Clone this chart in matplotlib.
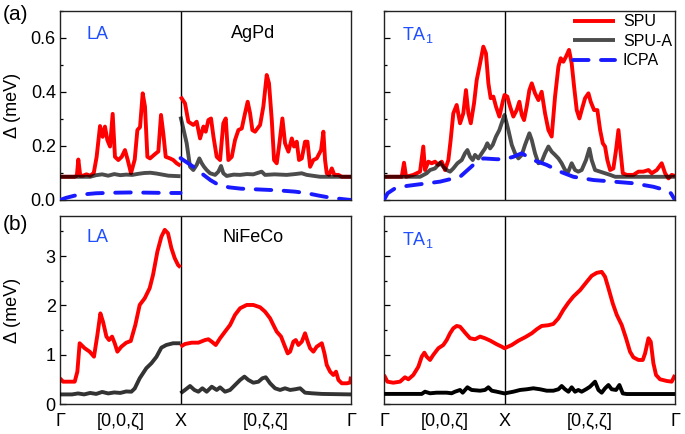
import numpy as np
import matplotlib
matplotlib.use("Agg")
import matplotlib.pyplot as plt
from matplotlib.ticker import MultipleLocator

plt.rcParams['font.family'] = ['Liberation Sans', 'DejaVu Sans']
plt.rcParams['mathtext.default'] = 'regular'

L = 1 + np.sqrt(2)

# ---------------- (a) AgPd, LA ----------------
agpd_la_spu_x1 = [0, 0.12, 0.14, 0.152, 0.168, 0.19, 0.22, 0.25, 0.28, 0.304, 0.332, 0.354, 0.373, 0.393, 0.415, 0.437, 0.456, 0.484, 0.512, 0.539, 0.562, 0.589, 0.62, 0.642, 0.664, 0.686, 0.705, 0.725, 0.747, 0.788, 0.816, 0.838, 0.857, 0.877, 0.913, 0.94, 0.968, 1.0]
agpd_la_spu_y1 = [0.086, 0.086, 0.09, 0.15, 0.09, 0.09, 0.095, 0.09, 0.10, 0.16, 0.274, 0.234, 0.272, 0.222, 0.198, 0.319, 0.16, 0.148, 0.16, 0.185, 0.148, 0.099, 0.15, 0.259, 0.27, 0.395, 0.346, 0.16, 0.154, 0.17, 0.18, 0.315, 0.247, 0.16, 0.154, 0.148, 0.136, 0.127]
agpd_la_spu_x2 = [1.0, 1.037, 1.065, 1.106, 1.134, 1.162, 1.19, 1.209, 1.231, 1.253, 1.273, 1.30, 1.328, 1.355, 1.375, 1.397, 1.425, 1.452, 1.48, 1.508, 1.535, 1.557, 1.577, 1.596, 1.618, 1.66, 1.687, 1.715, 1.734, 1.757, 1.776, 1.798, 1.817, 1.845, 1.867, 1.895, 1.923, 1.942, 1.964, 1.983, 2.006, 2.033, 2.053, 2.075, 2.102, 2.13, 2.166, 2.185, 2.199, 2.213, 2.232, 2.255, 2.276, 2.31, 2.338, 2.414]
agpd_la_spu_y2 = [0.383, 0.358, 0.29, 0.278, 0.29, 0.228, 0.272, 0.253, 0.296, 0.302, 0.235, 0.16, 0.148, 0.284, 0.302, 0.148, 0.16, 0.222, 0.259, 0.265, 0.321, 0.364, 0.321, 0.259, 0.253, 0.278, 0.346, 0.463, 0.432, 0.296, 0.148, 0.136, 0.198, 0.302, 0.21, 0.179, 0.228, 0.198, 0.216, 0.148, 0.154, 0.216, 0.216, 0.123, 0.148, 0.154, 0.185, 0.253, 0.148, 0.099, 0.093, 0.117, 0.093, 0.093, 0.086, 0.086]
agpd_la_spua_x1 = [0, 0.25, 0.3, 0.35, 0.4, 0.45, 0.5, 0.55, 0.6, 0.65, 0.7, 0.75, 0.8, 0.85, 0.9, 0.95, 1.0]
agpd_la_spua_y1 = [0.086, 0.086, 0.092, 0.095, 0.09, 0.096, 0.092, 0.094, 0.093, 0.097, 0.1, 0.101, 0.098, 0.094, 0.09, 0.089, 0.088]
agpd_la_spua_x2 = [1.0, 1.051, 1.079, 1.106, 1.134, 1.156, 1.176, 1.195, 1.217, 1.245, 1.287, 1.314, 1.336, 1.355, 1.383, 1.44, 1.494, 1.55, 1.604, 1.673, 1.701, 1.78, 1.881, 1.95, 2.005, 2.047, 2.158, 2.414]
agpd_la_spua_y2 = [0.309, 0.21, 0.123, 0.111, 0.13, 0.154, 0.136, 0.123, 0.111, 0.099, 0.093, 0.105, 0.126, 0.099, 0.089, 0.094, 0.093, 0.096, 0.095, 0.105, 0.093, 0.095, 0.093, 0.096, 0.099, 0.093, 0.086, 0.086]
agpd_la_icpa_x1 = [0, 0.05, 0.12, 0.2, 0.3, 0.45, 0.6, 0.75, 0.9, 1.0]
agpd_la_icpa_y1 = [0.0, 0.008, 0.016, 0.021, 0.025, 0.027, 0.028, 0.027, 0.026, 0.026]
agpd_la_icpa_x2 = [1.0, 1.05, 1.1, 1.15, 1.2, 1.25, 1.3, 1.4, 1.5, 1.6, 1.8, 1.95, 2.05, 2.15, 2.25, 2.35, 2.414]
agpd_la_icpa_y2 = [0.155, 0.14, 0.125, 0.107, 0.09, 0.073, 0.06, 0.047, 0.042, 0.04, 0.036, 0.031, 0.025, 0.016, 0.008, 0.003, 0.0]

# ---------------- (a) AgPd, TA1 ----------------
agpd_ta_spu_x = [0, 0.147, 0.166, 0.183, 0.243, 0.299, 0.326, 0.34, 0.368, 0.396, 0.423, 0.451, 0.479, 0.506, 0.534, 0.553, 0.575, 0.603, 0.631, 0.658, 0.68, 0.7, 0.72, 0.747, 0.769, 0.797, 0.824, 0.846, 0.866, 0.885, 0.907, 0.929, 0.957, 0.985, 1.0,
                 1.023, 1.046, 1.073, 1.101, 1.123, 1.143, 1.162, 1.184, 1.206, 1.226, 1.253, 1.281, 1.308, 1.336, 1.364, 1.391, 1.419, 1.447, 1.466, 1.488, 1.51, 1.535, 1.557, 1.577, 1.599, 1.621, 1.64, 1.668, 1.696, 1.715, 1.743, 1.77, 1.793, 1.815, 1.834, 1.853, 1.876, 1.903, 1.925, 1.945, 1.964, 1.981, 2.014, 2.069, 2.111, 2.152, 2.194, 2.221, 2.263, 2.304, 2.332, 2.36, 2.387, 2.414]
agpd_ta_spu_y = [0.086, 0.086, 0.138, 0.086, 0.093, 0.105, 0.198, 0.111, 0.142, 0.136, 0.142, 0.13, 0.142, 0.111, 0.148, 0.222, 0.321, 0.352, 0.284, 0.321, 0.407, 0.321, 0.284, 0.358, 0.444, 0.506, 0.568, 0.543, 0.432, 0.377, 0.383, 0.346, 0.309, 0.364, 0.389,
                 0.383, 0.346, 0.309, 0.333, 0.364, 0.315, 0.296, 0.346, 0.407, 0.432, 0.395, 0.37, 0.401, 0.321, 0.259, 0.235, 0.383, 0.494, 0.525, 0.512, 0.531, 0.556, 0.506, 0.42, 0.333, 0.302, 0.333, 0.377, 0.395, 0.364, 0.333, 0.333, 0.259, 0.21, 0.198, 0.148, 0.111, 0.117, 0.185, 0.259, 0.173, 0.099, 0.093, 0.093, 0.105, 0.105, 0.111, 0.099, 0.111, 0.136, 0.099, 0.08, 0.093, 0.089]
agpd_ta_spua_x = [0, 0.299, 0.354, 0.382, 0.423, 0.465, 0.492, 0.52, 0.548, 0.575, 0.609, 0.645, 0.672, 0.692, 0.714, 0.736, 0.755, 0.783, 0.811, 0.838, 0.857, 0.88, 0.902, 0.929, 0.957, 0.985, 1.0, 1.032, 1.06, 1.087, 1.115, 1.143, 1.17, 1.206, 1.226, 1.253, 1.281, 1.308, 1.336, 1.364, 1.391, 1.419, 1.447, 1.474, 1.502, 1.529, 1.557, 1.585, 1.612, 1.64, 1.676, 1.704, 1.723, 1.751, 1.793, 1.834, 1.876, 1.918, 2.414]
agpd_ta_spua_y = [0.086, 0.086, 0.099, 0.111, 0.117, 0.138, 0.123, 0.111, 0.105, 0.117, 0.136, 0.148, 0.173, 0.185, 0.16, 0.148, 0.167, 0.154, 0.173, 0.191, 0.21, 0.191, 0.204, 0.235, 0.259, 0.296, 0.315, 0.259, 0.204, 0.173, 0.154, 0.167, 0.204, 0.247, 0.222, 0.173, 0.136, 0.142, 0.173, 0.198, 0.179, 0.167, 0.154, 0.136, 0.111, 0.105, 0.136, 0.111, 0.105, 0.111, 0.148, 0.19, 0.148, 0.111, 0.105, 0.099, 0.093, 0.086, 0.086]
agpd_ta_icpa_x = [0, 0.03, 0.091, 0.188, 0.465, 0.631, 0.741, 0.824, 0.935, 1.0, 1.073, 1.143, 1.239, 1.35, 1.461, 1.571, 1.737, 1.903, 2.069, 2.235, 2.332, 2.38, 2.414]
agpd_ta_icpa_y = [0.0, 0.025, 0.043, 0.052, 0.068, 0.086, 0.13, 0.154, 0.151, 0.151, 0.16, 0.173, 0.148, 0.13, 0.105, 0.086, 0.074, 0.068, 0.062, 0.049, 0.037, 0.025, 0.0]

# ---------------- (b) NiFeCo, LA ----------------
nifeco_la_spu_x1 = [0, 0.025, 0.122, 0.144, 0.163, 0.205, 0.246, 0.282, 0.31, 0.335, 0.357, 0.385, 0.407, 0.432, 0.454, 0.476, 0.509, 0.55, 0.587, 0.625, 0.661, 0.703, 0.744, 0.772, 0.808, 0.841, 0.869, 0.896, 0.924, 0.952, 0.979, 1.0]
nifeco_la_spu_y1 = [0.526, 0.458, 0.458, 0.66, 1.235, 1.134, 1.065, 0.964, 1.40, 1.84, 1.67, 1.37, 1.30, 1.37, 1.235, 1.065, 1.166, 1.247, 1.28, 1.605, 2.01, 2.146, 2.35, 2.62, 3.09, 3.39, 3.53, 3.46, 3.16, 2.955, 2.82, 2.77]
nifeco_la_spu_x2 = [1.0, 1.037, 1.093, 1.148, 1.203, 1.231, 1.259, 1.292, 1.328, 1.369, 1.411, 1.452, 1.494, 1.549, 1.604, 1.66, 1.701, 1.743, 1.77, 1.798, 1.834, 1.861, 1.889, 1.909, 1.936, 1.956, 1.978, 2.006, 2.033, 2.055, 2.075, 2.102, 2.13, 2.172, 2.194, 2.213, 2.241, 2.268, 2.29, 2.31, 2.338, 2.379, 2.407, 2.414]
nifeco_la_spu_y2 = [1.166, 1.22, 1.247, 1.247, 1.30, 1.316, 1.267, 1.2, 1.336, 1.47, 1.605, 1.81, 1.943, 2.01, 2.01, 1.963, 1.875, 1.74, 1.605, 1.47, 1.37, 1.2, 1.03, 1.065, 1.267, 1.30, 1.2, 1.267, 1.437, 1.267, 1.134, 1.065, 1.166, 1.235, 1.03, 0.796, 0.66, 0.593, 0.66, 0.492, 0.425, 0.425, 0.44, 0.56]
nifeco_la_spua_x1 = [0, 0.1, 0.15, 0.2, 0.25, 0.3, 0.35, 0.4, 0.45, 0.5, 0.55, 0.592, 0.62, 0.661, 0.716, 0.758, 0.8, 0.841, 0.882, 0.938, 1.0]
nifeco_la_spua_y1 = [0.2, 0.2, 0.22, 0.2, 0.23, 0.21, 0.25, 0.22, 0.24, 0.23, 0.26, 0.255, 0.32, 0.526, 0.73, 0.83, 0.96, 1.146, 1.2, 1.235, 1.235]
nifeco_la_spua_x2 = [1.0, 1.037, 1.079, 1.115, 1.148, 1.181, 1.217, 1.259, 1.3, 1.328, 1.369, 1.411, 1.452, 1.494, 1.53, 1.563, 1.604, 1.646, 1.679, 1.707, 1.743, 1.784, 1.826, 1.867, 1.909, 1.95, 1.992, 2.033, 2.089, 2.172, 2.414]
nifeco_la_spua_y2 = [0.223, 0.29, 0.37, 0.29, 0.255, 0.324, 0.255, 0.356, 0.29, 0.343, 0.255, 0.29, 0.39, 0.492, 0.56, 0.492, 0.437, 0.457, 0.526, 0.547, 0.425, 0.324, 0.29, 0.324, 0.29, 0.304, 0.324, 0.235, 0.223, 0.21, 0.2]

# ---------------- (b) NiFeCo, TA1 ----------------
nifeco_ta_spu_x = [0, 0.028, 0.077, 0.133, 0.174, 0.202, 0.243, 0.285, 0.313, 0.335, 0.354, 0.382, 0.409, 0.451, 0.492, 0.52, 0.548, 0.575, 0.603, 0.631, 0.672, 0.714, 0.755, 0.797, 0.838, 0.88, 0.935, 0.977, 1.0, 1.06, 1.115, 1.17, 1.226, 1.267, 1.308, 1.364, 1.405, 1.447, 1.488, 1.53, 1.571, 1.627, 1.676, 1.723, 1.765, 1.806, 1.834, 1.862, 1.898, 1.931, 1.972, 2.008, 2.041, 2.069, 2.111, 2.147, 2.166, 2.194, 2.213, 2.235, 2.257, 2.29, 2.346, 2.387, 2.414]
nifeco_ta_spu_y = [0.593, 0.458, 0.437, 0.458, 0.547, 0.506, 0.593, 0.76, 0.964, 1.045, 0.964, 0.897, 1.0, 1.134, 1.2, 1.30, 1.437, 1.538, 1.585, 1.57, 1.45, 1.336, 1.316, 1.37, 1.336, 1.29, 1.215, 1.166, 1.134, 1.2, 1.287, 1.356, 1.437, 1.518, 1.585, 1.6, 1.626, 1.74, 1.91, 2.057, 2.18, 2.31, 2.46, 2.6, 2.66, 2.68, 2.58, 2.35, 2.04, 1.81, 1.605, 1.336, 1.065, 0.95, 0.897, 0.897, 1.03, 1.336, 1.267, 0.83, 0.593, 0.506, 0.472, 0.458, 0.593]
nifeco_ta_spua_x = [0, 0.313, 0.34, 0.382, 0.437, 0.52, 0.561, 0.589, 0.631, 0.653, 0.692, 0.727, 0.797, 0.838, 0.866, 0.894, 0.935, 1.0,
                    1.073, 1.129, 1.184, 1.239, 1.295, 1.35, 1.405, 1.447, 1.474, 1.502, 1.53, 1.557, 1.585, 1.612, 1.64, 1.676, 1.709, 1.751, 1.779, 1.806, 1.834, 1.862, 1.889, 1.925, 1.953, 1.981, 2.014, 2.414]
nifeco_ta_spua_y = [0.21, 0.21, 0.255, 0.223, 0.235, 0.235, 0.223, 0.255, 0.29, 0.235, 0.344, 0.29, 0.275, 0.29, 0.344, 0.275, 0.255, 0.22,
                    0.255, 0.29, 0.304, 0.324, 0.304, 0.275, 0.275, 0.304, 0.37, 0.304, 0.255, 0.344, 0.255, 0.29, 0.255, 0.304, 0.356, 0.458, 0.29, 0.235, 0.324, 0.39, 0.304, 0.29, 0.39, 0.22, 0.208, 0.208]

xtick_pos = [0, 0.5, 1, 1 + np.sqrt(2) / 2, L]
xtick_labels = ['Γ', '[0,0,ζ]', 'X', '[0,ζ,ζ]', 'Γ']
series_labels = ['SPU', 'SPU-A', 'ICPA']

RED = '#ff0000'
BLUE = '#1a1aff'
TXTBLUE = '#1f4fff'
LW = 2.8

fig = plt.figure(figsize=(6.85, 4.34), dpi=100)
W, H = 685, 434
def axpos(l, t, r, b):
    return [l / W, (H - b) / H, (r - l) / W, (b - t) / H]

ax_a1 = fig.add_axes(axpos(60, 11, 351, 200))
ax_a2 = fig.add_axes(axpos(384, 11, 675, 200))
ax_b1 = fig.add_axes(axpos(60, 216, 351, 404.3))
ax_b2 = fig.add_axes(axpos(384, 216, 675, 404.3))

def spu(ax, x, y):
    return ax.plot(x, y, color=RED, lw=LW, solid_joinstyle='round', solid_capstyle='butt', zorder=2)[0]
def spua(ax, x, y, alpha=0.7):
    return ax.plot(x, y, color='black', alpha=alpha, lw=LW, solid_joinstyle='round', solid_capstyle='butt', zorder=3)[0]
def icpa(ax, x, y):
    return ax.plot(x, y, color=BLUE, lw=LW, linestyle=(0, (4, 3.2)), dash_capstyle='round', zorder=4)[0]

# (a) left
spu(ax_a1, agpd_la_spu_x1, agpd_la_spu_y1)
spu(ax_a1, agpd_la_spu_x2, agpd_la_spu_y2)
spua(ax_a1, agpd_la_spua_x1, agpd_la_spua_y1)
spua(ax_a1, agpd_la_spua_x2, agpd_la_spua_y2)
icpa(ax_a1, agpd_la_icpa_x1, agpd_la_icpa_y1)
icpa(ax_a1, agpd_la_icpa_x2, agpd_la_icpa_y2)
# (a) right
h1 = spu(ax_a2, agpd_ta_spu_x, agpd_ta_spu_y)
h2 = spua(ax_a2, agpd_ta_spua_x, agpd_ta_spua_y)
h3 = icpa(ax_a2, agpd_ta_icpa_x, agpd_ta_icpa_y)
# (b) left
spu(ax_b1, nifeco_la_spu_x1, nifeco_la_spu_y1)
spu(ax_b1, nifeco_la_spu_x2, nifeco_la_spu_y2)
spua(ax_b1, nifeco_la_spua_x1, nifeco_la_spua_y1, alpha=0.8)
spua(ax_b1, nifeco_la_spua_x2, nifeco_la_spua_y2, alpha=0.8)
# (b) right
spu(ax_b2, nifeco_ta_spu_x, nifeco_ta_spu_y)
spua(ax_b2, nifeco_ta_spua_x, nifeco_ta_spua_y, alpha=1.0)

leg = ax_a2.legend([h1, h2, h3], series_labels, loc='upper right', frameon=False,
                   fontsize=11.5, handlelength=2.6, handletextpad=0.5, labelspacing=0.28,
                   borderpad=0.15, borderaxespad=0.05)

for ax in (ax_a1, ax_a2, ax_b1, ax_b2):
    ax.set_xlim(0, L)
    ax.axvline(1, color='black', lw=1.0, zorder=1)
    for s in ax.spines.values():
        s.set_linewidth(1.0)
        s.set_color('#222222')
    ax.tick_params(axis='y', which='major', direction='in', length=4.5, width=0.9, labelsize=13, pad=3)
    ax.tick_params(axis='y', which='minor', direction='in', length=2.5, width=0.9)
    ax.tick_params(axis='x', which='both', length=0)

for ax in (ax_a1, ax_a2):
    ax.set_ylim(0, 0.70)
    ax.set_yticks([0, 0.2, 0.4, 0.6])
    ax.set_yticklabels(['0.0', '0.2', '0.4', '0.6'])
    ax.yaxis.set_minor_locator(MultipleLocator(0.1))
    ax.set_xticks([])
for ax in (ax_b1, ax_b2):
    ax.set_ylim(0, 3.81)
    ax.set_yticks([0, 1, 2, 3])
    ax.set_yticklabels(['0', '1', '2', '3'])
    ax.yaxis.set_minor_locator(MultipleLocator(0.5))
    ax.set_xticks(xtick_pos)
    ax.set_xticklabels(xtick_labels, fontsize=13)
    ax.tick_params(axis='x', pad=6)
for ax in (ax_a2, ax_b2):
    ax.tick_params(axis='y', labelleft=False)

for ax in (ax_a1, ax_b1):
    ax.set_ylabel('Δ (meV)', fontsize=13, va='center')
    ax.yaxis.set_label_coords(-0.163, 0.5)

ax_a1.text(0.13, 0.875, 'LA', transform=ax_a1.transAxes, color=TXTBLUE, fontsize=13, ha='center', va='center')
ax_a1.text(0.665, 0.882, 'AgPd', transform=ax_a1.transAxes, color='black', fontsize=13, ha='center', va='center')
ax_a2.text(0.115, 0.872, 'TA$_1$', transform=ax_a2.transAxes, color=TXTBLUE, fontsize=13, ha='center', va='center')
ax_b1.text(0.13, 0.888, 'LA', transform=ax_b1.transAxes, color=TXTBLUE, fontsize=13, ha='center', va='center')
ax_b1.text(0.665, 0.888, 'NiFeCo', transform=ax_b1.transAxes, color='black', fontsize=13, ha='center', va='center')
ax_b2.text(0.115, 0.872, 'TA$_1$', transform=ax_b2.transAxes, color=TXTBLUE, fontsize=13, ha='center', va='center')

fig.text(15 / W, 1 - 14 / H, '(a)', fontsize=15, ha='center', va='center')
fig.text(15 / W, 1 - 224 / H, '(b)', fontsize=15, ha='center', va='center')

fig.savefig('out.png', dpi=100)
